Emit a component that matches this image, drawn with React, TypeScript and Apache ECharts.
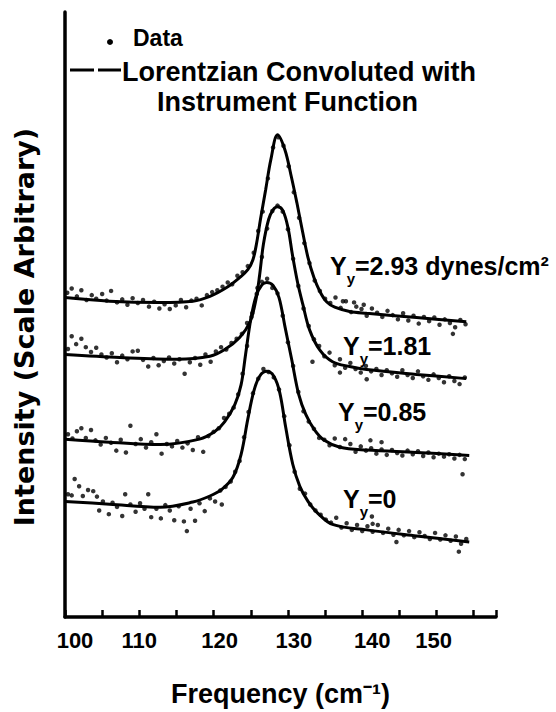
import React, { useEffect, useRef } from "react";
import * as echarts from "echarts";

// ---------- data (frequency in cm^-1, intensity in arbitrary units) ----------
const xTickLabels = [100, 110, 120, 130, 140, 150];
const stressLabels = ["2.93 dynes/cm²", "1.81", "0.85", "0"];

// Lorentzian convoluted with instrument function (fitted curves)
const fitA: [number, number][] = [
  [100, 52.8], [106.0, 52.2], [112.8, 52.0], [117.2, 52.2], [119.5, 53.0], [121.8, 54.5],
  [123.5, 56.1], [124.6, 57.4], [125.3, 59.1], [125.8, 61.9], [126.3, 65.7], [127.0, 70.6],
  [127.7, 75.6], [128.6, 79.7], [129.6, 77.2], [130.4, 73.1], [131.2, 68.5], [132.0, 63.5],
  [132.7, 59.4], [133.5, 56.1], [134.3, 53.8], [135.2, 52.1], [136.3, 51.2], [138.3, 50.5],
  [140.6, 50.2], [147.3, 49.5], [154.0, 48.8],
];
const fitB: [number, number][] = [
  [100, 43.4], [107.4, 42.9], [115.1, 42.6], [119.5, 43.1], [121.5, 44.2], [123.5, 46.2],
  [124.9, 48.8], [125.7, 52.5], [126.2, 56.6], [126.7, 61.6], [127.4, 65.7], [128.0, 67.3],
  [128.6, 67.8], [129.3, 67.2], [130.0, 64.4], [130.6, 59.9], [131.3, 55.3], [132.0, 51.7],
  [132.9, 47.5], [134.3, 44.1], [136.0, 42.2], [138.3, 41.4], [140.6, 40.9], [147.3, 40.1],
  [154.0, 39.4],
];
const fitC: [number, number][] = [
  [100, 29.4], [106.0, 28.9], [112.8, 28.5], [118.1, 29.4], [120.2, 30.7], [121.5, 32.3],
  [122.85, 35.1], [123.7, 38.4], [124.3, 43.4], [125.0, 49.2], [125.7, 53.0], [126.5, 54.9],
  [127.15, 55.3], [128.0, 54.8], [128.8, 52.8], [129.6, 48.0], [130.5, 42.6], [131.45, 36.8],
  [132.4, 33.5], [133.6, 30.9], [134.9, 29.2], [137.0, 28.05], [140.6, 27.6], [147.3, 27.2],
  [154.4, 26.7],
];
const fitD: [number, number][] = [
  [100, 19.1], [106.0, 18.65], [112.8, 18.15], [117.2, 19.0], [119.5, 20.0], [121.1, 21.1],
  [122.6, 23.1], [123.7, 26.9], [124.6, 32.7], [125.4, 37.3], [126.2, 39.8], [127.15, 40.6],
  [128.1, 39.8], [128.9, 37.1], [129.7, 31.35], [130.65, 25.25], [131.6, 21.6], [132.7, 19.1],
  [133.9, 17.3], [136.0, 15.3], [140.6, 14.4], [147.3, 13.4], [154.4, 12.4],
];

// measured data points
const dataA: [number, number][] = [
  [100.3, 53.6], [100.9, 54.3], [101.6, 53.0], [102.2, 54.0], [102.9, 52.4], [103.6, 53.2],
  [104.2, 52.6], [105.0, 53.4], [105.6, 52.3], [106.2, 53.9], [107.0, 52.0], [107.7, 52.5],
  [108.4, 51.6], [109.1, 52.7], [109.8, 51.9], [110.5, 52.4], [111.3, 51.3], [112.0, 52.1],
  [112.7, 51.0], [113.4, 51.7], [114.1, 50.9], [114.9, 51.5], [115.6, 52.4], [116.3, 51.2],
  [117.0, 52.3], [117.7, 52.6], [118.4, 51.5], [119.1, 53.2], [119.8, 53.7], [120.5, 54.0],
  [121.2, 54.6], [121.9, 55.3], [122.5, 55.0], [123.2, 56.4], [123.9, 57.0], [124.6, 58.0],
  [125.4, 60.2], [126.0, 63.8], [126.6, 67.0], [127.3, 72.5], [128.0, 77.6], [128.7, 79.3],
  [129.4, 77.9], [130.1, 74.5], [130.8, 70.2], [131.5, 66.0], [132.2, 61.8], [132.9, 58.5],
  [133.6, 55.6], [134.3, 53.9], [135.0, 52.6], [135.7, 51.9], [136.4, 52.8], [137.1, 51.1],
  [137.4, 52.2], [137.8, 52.2], [138.5, 50.4], [138.9, 52.0], [139.2, 51.3], [139.9, 50.9],
  [140.2, 51.6], [140.6, 49.8], [141.3, 51.0], [142.0, 50.3], [142.7, 49.6], [143.4, 50.6],
  [144.1, 49.9], [144.8, 49.2], [145.5, 50.2], [146.2, 49.0], [146.9, 49.8], [147.6, 48.5],
  [148.3, 49.6], [149.0, 48.9], [149.7, 49.5], [150.4, 48.3], [151.1, 49.2], [151.8, 48.6],
  [152.2, 46.8], [152.5, 47.9], [153.2, 49.1], [153.9, 48.4],
];
const dataB: [number, number][] = [
  [100.4, 44.3], [100.9, 46.4], [101.5, 45.1], [102.2, 46.0], [102.8, 44.6], [103.5, 43.8],
  [104.2, 44.5], [104.9, 43.4], [105.6, 42.9], [106.3, 43.6], [107.0, 42.1], [107.7, 43.2],
  [108.4, 42.6], [109.1, 43.9], [109.8, 44.0], [110.5, 42.5], [111.2, 41.4], [111.9, 42.8],
  [112.6, 41.6], [113.3, 42.3], [114.0, 42.9], [114.7, 41.9], [115.4, 42.6], [116.1, 40.2],
  [116.8, 42.1], [117.5, 42.8], [118.2, 41.7], [118.9, 43.4], [119.6, 42.2], [120.3, 43.9],
  [121.0, 44.6], [121.7, 44.2], [122.4, 45.3], [123.1, 46.0], [123.8, 46.8], [124.5, 48.6],
  [125.2, 50.2], [125.9, 54.4], [126.5, 59.5], [127.2, 64.2], [127.9, 67.1], [128.6, 68.0],
  [129.3, 67.0], [130.0, 64.1], [130.7, 59.2], [131.4, 54.7], [132.1, 51.0], [132.8, 48.1],
  [133.3, 42.2], [133.5, 45.9], [134.2, 44.8], [134.9, 43.1], [135.6, 43.7], [136.3, 41.6],
  [137.0, 40.4], [137.0, 42.6], [137.7, 41.2], [138.4, 42.0], [139.1, 41.0], [139.8, 40.4],
  [140.5, 41.5], [140.6, 39.3], [141.2, 40.6], [141.9, 41.0], [142.6, 40.0], [143.3, 40.8],
  [144.0, 40.3], [144.7, 39.7], [145.4, 40.8], [146.1, 40.0], [146.8, 39.5], [147.5, 40.6],
  [148.2, 39.8], [148.9, 39.2], [149.6, 40.1], [150.3, 39.5], [151.0, 38.8], [151.7, 39.8],
  [152.4, 39.0], [153.1, 38.5], [153.8, 39.6],
];
const dataC: [number, number][] = [
  [100.4, 30.2], [101.0, 29.5], [101.6, 30.7], [102.2, 31.2], [102.8, 29.6], [103.5, 30.9],
  [104.1, 29.2], [104.8, 28.5], [105.5, 29.6], [106.2, 28.8], [106.9, 27.5], [107.5, 29.3],
  [108.2, 27.2], [108.8, 31.6], [109.5, 28.6], [110.2, 29.4], [110.9, 28.0], [111.6, 28.9],
  [112.3, 30.2], [113.0, 27.0], [113.7, 28.6], [114.4, 28.2], [115.1, 29.1], [115.8, 28.0],
  [116.5, 28.7], [117.2, 27.6], [117.9, 29.7], [118.6, 27.3], [119.3, 29.9], [120.0, 30.6],
  [120.7, 31.2], [121.4, 32.9], [122.1, 33.6], [122.7, 34.6], [123.3, 36.8], [123.9, 40.2],
  [124.5, 44.8], [125.1, 49.6], [125.8, 53.4], [126.5, 55.4], [127.2, 55.9], [127.9, 54.4],
  [128.6, 53.5], [129.3, 49.8], [130.0, 45.4], [130.7, 41.5], [131.4, 37.2], [132.1, 34.0],
  [132.8, 32.3], [133.5, 31.1], [134.2, 29.6], [134.9, 29.3], [135.6, 28.4], [136.3, 29.5],
  [137.0, 28.1], [137.7, 29.4], [138.4, 28.6], [139.1, 27.3], [139.8, 28.2], [140.5, 27.5],
  [141.1, 29.2], [141.2, 27.9], [141.9, 27.0], [142.6, 28.9], [142.6, 27.7], [143.3, 26.8],
  [144.0, 27.6], [144.7, 27.1], [145.4, 26.7], [146.1, 27.5], [146.8, 26.9], [147.5, 27.4],
  [148.2, 26.6], [148.9, 27.2], [149.6, 26.4], [150.3, 27.0], [151.0, 26.5], [151.7, 26.9],
  [152.4, 26.2], [153.1, 26.8], [153.5, 23.6], [153.8, 26.1],
];
const dataD: [number, number][] = [
  [100.4, 20.3], [100.9, 20.1], [101.3, 22.8], [101.9, 21.6], [102.4, 20.0], [103.1, 21.0],
  [103.8, 20.8], [104.3, 19.9], [104.6, 17.6], [105.1, 19.1], [105.9, 17.0], [106.4, 18.9],
  [107.0, 18.2], [107.7, 16.7], [108.1, 20.3], [108.8, 18.6], [109.5, 17.4], [110.1, 18.8],
  [110.7, 17.9], [111.2, 20.3], [111.6, 16.5], [112.3, 17.9], [112.9, 16.3], [113.5, 18.5],
  [114.1, 17.6], [114.7, 16.0], [115.3, 18.3], [116.0, 15.8], [116.4, 14.2], [116.9, 17.9],
  [117.5, 15.9], [118.1, 18.8], [118.8, 17.5], [119.5, 19.6], [120.2, 19.1], [120.9, 20.9],
  [121.1, 18.6], [121.6, 21.5], [122.3, 22.4], [122.9, 24.0], [123.5, 25.8], [124.1, 29.7],
  [124.7, 33.9], [125.3, 37.0], [126.0, 39.4], [126.7, 41.0], [127.4, 40.5], [128.1, 39.6],
  [128.8, 37.6], [129.5, 33.2], [130.2, 28.4], [130.9, 24.0], [131.6, 21.2], [132.3, 20.4],
  [133.0, 18.6], [133.7, 17.6], [134.4, 16.9], [135.1, 16.1], [135.8, 15.6], [136.5, 16.4],
  [137.2, 14.8], [137.9, 15.5], [138.6, 14.4], [139.3, 15.2], [140.0, 14.2], [140.7, 15.0],
  [141.3, 16.6], [141.4, 15.4], [141.4, 14.1], [142.1, 15.2], [142.8, 13.9], [143.5, 14.6],
  [144.2, 13.6], [144.6, 12.4], [144.9, 14.4], [145.6, 13.5], [146.3, 14.2], [147.0, 13.2],
  [147.7, 14.0], [148.4, 13.4], [149.1, 12.9], [149.8, 13.9], [150.5, 12.8], [151.2, 13.5],
  [151.9, 12.6], [152.6, 13.3], [153.0, 10.8], [153.3, 12.1], [154.0, 12.9],
];

const fits = [fitA, fitB, fitC, fitD];
const datas = [dataA, dataB, dataC, dataD];

const FONT = '"Liberation Sans", Arial, sans-serif';
const FONT_WIDE = '"DejaVu Sans", sans-serif';
const BLACK = "#000";

// label anchor positions (left x, vertical centre y) in pixels
const labelAnchors: [number, number][] = [
  [330, 266],
  [343, 346],
  [338, 412],
  [343, 499],
];
// small horizontal nudges for hand-lettered tick labels (pixels)
const tickNudge: Record<number, number> = { 100: 10, 110: 0, 120: 6, 130: 6, 140: 10, 150: -3 };

export default function App() {
  const ref = useRef<HTMLDivElement>(null);

  useEffect(() => {
    document.body.style.margin = "0";
    const chart = echarts.init(ref.current as HTMLDivElement, null, { renderer: "svg" });

    const rich: Record<string, any> = {};
    xTickLabels.forEach((v) => {
      const n = tickNudge[v] || 0;
      rich["t" + v] = {
        fontSize: 22,
        fontWeight: "bold",
        fontFamily: FONT,
        color: BLACK,
        padding: n >= 0 ? [0, 0, 0, 2 * n] : [0, -2 * n, 0, 0],
      };
    });

    const series: any[] = [];
    fits.forEach((f, i) => {
      series.push({
        type: "line",
        name: "Lorentzian Convoluted with Instrument Function",
        data: f,
        smooth: 0.35,
        showSymbol: false,
        symbol: "none",
        lineStyle: { color: BLACK, width: 3 },
        z: 2,
      });
      series.push({
        type: "scatter",
        name: "Data",
        data: datas[i],
        symbol: "circle",
        symbolSize: 4.5,
        itemStyle: { color: BLACK },
        z: 3,
      });
    });

    const labelGraphics = stressLabels.map((lab, i) => ({
      type: "text",
      x: labelAnchors[i][0],
      y: labelAnchors[i][1],
      style: {
        text: `{m|Y}{s|y}{m|=${lab}}`,
        align: "left",
        textAlign: "left",
        verticalAlign: "middle",
        textVerticalAlign: "middle",
        fill: BLACK,
        rich: {
          m: { fontSize: 25, fontWeight: "bold", fontFamily: FONT, lineHeight: 40, fill: BLACK },
          s: {
            fontSize: 15,
            fontWeight: "bold",
            fontFamily: FONT,
            lineHeight: 15,
            verticalAlign: "bottom",
            textVerticalAlign: "bottom",
            fill: BLACK,
          },
        },
      },
    }));

    const option: any = {
      animation: false,
      backgroundColor: "#fff",
      grid: { left: 65, right: 60, top: 12, bottom: 94, containLabel: false },
      xAxis: {
        type: "value",
        min: 100,
        max: 158,
        interval: 5,
        name: "Frequency (cm⁻¹)",
        nameLocation: "middle",
        nameGap: 63,
        nameTextStyle: { fontSize: 27, fontWeight: "bold", fontFamily: FONT, color: BLACK },
        axisLine: { show: true, onZero: false, lineStyle: { color: BLACK, width: 3.5 } },
        axisTick: { show: true, inside: true, length: 7, lineStyle: { color: BLACK, width: 2.5 } },
        splitLine: { show: false },
        axisLabel: {
          margin: 12,
          fontSize: 22,
          fontWeight: "bold",
          fontFamily: FONT,
          color: BLACK,
          formatter: (v: number) =>
            xTickLabels.indexOf(v) >= 0 ? `{t${v}|${v}}` : "",
          rich,
        },
      },
      yAxis: {
        type: "value",
        min: 0,
        max: 100,
        axisLine: { show: true, onZero: false, lineStyle: { color: BLACK, width: 3.5 } },
        axisTick: { show: false },
        axisLabel: { show: false },
        splitLine: { show: false },
      },
      series,
      graphic: [
        {
          type: "text",
          x: 24,
          y: 327,
          rotation: Math.PI / 2,
          style: {
            text: "Intensity (Scale Arbitrary)",
            fontSize: 27,
            fontWeight: "bold",
            fontFamily: FONT_WIDE,
            fill: BLACK,
            align: "center",
            textAlign: "center",
            verticalAlign: "middle",
            textVerticalAlign: "middle",
          },
        },
        // legend
        { type: "circle", shape: { cx: 110, cy: 42, r: 3 }, style: { fill: BLACK } },
        {
          type: "text",
          x: 133,
          y: 38,
          style: {
            text: "Data",
            fontSize: 23,
            fontWeight: "bold",
            fontFamily: FONT,
            fill: BLACK,
            align: "left",
            textAlign: "left",
            verticalAlign: "middle",
            textVerticalAlign: "middle",
          },
        },
        {
          type: "line",
          shape: { x1: 70, y1: 70, x2: 121, y2: 70 },
          style: { stroke: BLACK, lineWidth: 2.8, lineDash: [24, 4] },
        },
        {
          type: "text",
          x: 122,
          y: 72,
          style: {
            text: "Lorentzian Convoluted with",
            fontSize: 27,
            fontWeight: "bold",
            fontFamily: FONT,
            fill: BLACK,
            align: "left",
            textAlign: "left",
            verticalAlign: "middle",
            textVerticalAlign: "middle",
          },
        },
        {
          type: "text",
          x: 157,
          y: 102,
          style: {
            text: "Instrument Function",
            fontSize: 27,
            fontWeight: "bold",
            fontFamily: FONT,
            fill: BLACK,
            align: "left",
            textAlign: "left",
            verticalAlign: "middle",
            textVerticalAlign: "middle",
          },
        },
        ...labelGraphics,
      ],
    };

    chart.setOption(option);
    return () => chart.dispose();
  }, []);

  return <div ref={ref} style={{ width: 556, height: 712 }} />;
}
